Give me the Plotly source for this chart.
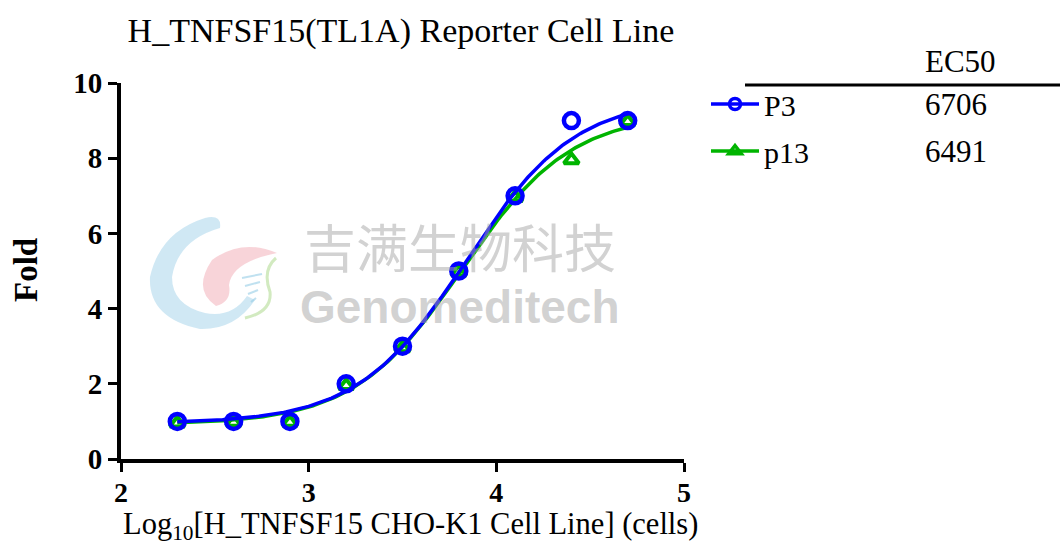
import numpy as np
import plotly.graph_objects as go

# ---- data ----
log_cells = [2.3, 2.6, 2.9, 3.2, 3.5, 3.8, 4.1, 4.4, 4.7]
p3_fold = [1.0, 1.0, 1.0, 2.0, 3.0, 5.0, 7.0, 9.0, 9.0]
p13_fold = [0.95, 0.97, 0.97, 1.95, 2.95, 4.97, 6.95, 7.95, 8.97]
series_names = ["P3", "p13"]
ec50_values = ["6706", "6491"]
x_ticks = [2, 3, 4, 5]
y_ticks = [0, 2, 4, 6, 8, 10]

# 4PL fit parameters (bottom, top, logEC50, hill)
p3_fit = dict(bottom=0.95, top=9.6, logec50=3.84, hill=1.5)
p13_fit = dict(bottom=0.92, top=9.2, logec50=3.82, hill=1.5)

BLUE = "#0000ff"
GREEN = "#00b400"
FONT = "Liberation Serif"


def fourpl(x, p):
    x = np.asarray(x)
    return p["bottom"] + (p["top"] - p["bottom"]) / (1 + 10 ** ((p["logec50"] - x) * p["hill"]))


xfit = np.linspace(min(log_cells), max(log_cells), 200)

W, H = 1060, 548
L, R, T, B = 121, 684, 83, 459


def ax(xp):  # pixel -> paper x (plot-area relative)
    return (xp - L) / (R - L)


def ay(yp):
    return (B - yp) / (B - T)


def cx(xp):  # pixel -> container
    return xp / W


def cy(yp):
    return 1 - yp / H


def pth(cmds):
    out = []
    for c in cmds:
        if isinstance(c, str):
            out.append(c)
        else:
            out.append(f"{ax(c[0]):.4f},{ay(c[1]):.4f}")
    return " ".join(out)


fig = go.Figure()

# ---- watermark (logo + text) ----
fig.add_shape(type="path", xref="paper", yref="paper", layer="below",
              path=pth(["M", (220, 228), "Q", (222, 214), (205, 218), "Q", (160, 232), (150, 277),
                        "Q", (148, 318), (200, 329), "Q", (235, 330), (255, 300),
                        "L", (247, 296), "Q", (232, 318), (205, 313), "Q", (172, 305), (172, 277),
                        "Q", (178, 240), (220, 228), "Z"]),
              fillcolor="rgba(150,205,230,0.45)", line=dict(width=0))
fig.add_shape(type="path", xref="paper", yref="paper", layer="below",
              path=pth(["M", (277, 253), "Q", (242, 238), (212, 260), "Q", (192, 290), (216, 306),
                        "Q", (232, 302), (229, 285), "Q", (232, 262), (277, 253), "Z"]),
              fillcolor="rgba(240,160,170,0.45)", line=dict(width=0))
fig.add_shape(type="path", xref="paper", yref="paper", layer="below",
              path=pth(["M", (276, 258), "Q", (262, 270), (270, 292), "Q", (272, 312), (245, 318)]),
              line=dict(color="rgba(180,220,150,0.6)", width=3))
for i in range(4):
    fig.add_shape(type="line", xref="paper", yref="paper", layer="below",
                  x0=ax(242 + 3 * i), y0=ay(278 + 8 * i), x1=ax(262 - 2 * i), y1=ay(274 + 8 * i),
                  line=dict(color="rgba(150,205,230,0.6)", width=2))

fig.add_annotation(x=ax(460), y=ay(246), xref="paper", yref="paper", text="吉满生物科技",
                   showarrow=False, font=dict(family="Noto Sans CJK SC", size=52, color="rgba(165,165,165,0.5)"),
                   xanchor="center", yanchor="middle")
fig.add_annotation(x=ax(460), y=ay(307), xref="paper", yref="paper", text="<b>Genomeditech</b>",
                   showarrow=False, font=dict(family="Liberation Sans", size=46, color="rgba(165,165,165,0.5)"),
                   xanchor="center", yanchor="middle")

# p13 (green)
fig.add_trace(go.Scatter(x=xfit, y=fourpl(xfit, p13_fit), mode="lines",
                         line=dict(color=GREEN, width=3.5), showlegend=False, hoverinfo="skip"))
fig.add_trace(go.Scatter(x=log_cells, y=p13_fold, mode="markers", showlegend=False,
                         marker=dict(symbol="triangle-up-open", size=13, color=GREEN, line=dict(width=4, color=GREEN))))
# P3 (blue)
fig.add_trace(go.Scatter(x=xfit, y=fourpl(xfit, p3_fit), mode="lines",
                         line=dict(color=BLUE, width=3.5), showlegend=False, hoverinfo="skip"))
fig.add_trace(go.Scatter(x=log_cells, y=p3_fold, mode="markers", showlegend=False,
                         marker=dict(symbol="circle-open", size=15, color=BLUE, line=dict(width=4.5, color=BLUE))))

# legend entries (dummy traces)
fig.add_trace(go.Scatter(x=[None], y=[None], mode="lines+markers", name=series_names[0],
                         line=dict(color=BLUE, width=3.5),
                         marker=dict(symbol="circle-open", size=11, color=BLUE, line=dict(width=3.5, color=BLUE)),
                         legend="legend"))
fig.add_trace(go.Scatter(x=[None], y=[None], mode="lines+markers", name=series_names[1],
                         line=dict(color=GREEN, width=3.5),
                         marker=dict(symbol="triangle-up-open", size=11, color=GREEN, line=dict(width=3.5, color=GREEN)),
                         legend="legend2"))

leg_common = dict(xref="container", yref="container", xanchor="left", yanchor="middle",
                  font=dict(family=FONT, size=30, color="black"), bgcolor="rgba(0,0,0,0)",
                  itemwidth=48, tracegroupgap=0)
fig.update_layout(
    legend=dict(x=cx(706), y=cy(104), **leg_common),
    legend2=dict(x=cx(706), y=cy(151), **leg_common),
)

# EC50 table
fig.add_annotation(x=ax(923), y=ay(62), xref="paper", yref="paper", text="EC50", showarrow=False,
                   font=dict(family=FONT, size=31, color="black"), xanchor="left", yanchor="middle")
for i, v in enumerate(ec50_values):
    fig.add_annotation(x=ax(923), y=ay(104 + 47 * i), xref="paper", yref="paper", text=v, showarrow=False,
                       font=dict(family=FONT, size=31, color="black"), xanchor="left", yanchor="middle")
fig.add_shape(type="line", xref="paper", yref="paper", x0=ax(745), x1=ax(1062), y0=ay(85), y1=ay(85),
              line=dict(color="black", width=3))

# axis titles
fig.add_annotation(x=ax(410), y=ay(526), xref="paper", yref="paper",
                   text="Log<sub>10</sub>[H_TNFSF15 CHO-K1 Cell Line] (cells)", showarrow=False,
                   font=dict(family=FONT, size=30.5, color="black"), xanchor="center", yanchor="middle")
fig.add_annotation(x=ax(26), y=ay(270), xref="paper", yref="paper", text="<b>Fold</b>", textangle=-90,
                   showarrow=False, font=dict(family=FONT, size=33, color="black"),
                   xanchor="center", yanchor="middle")

fig.update_layout(
    width=W, height=H,
    margin=dict(l=L, r=W - R, t=T, b=H - B, autoexpand=False),
    plot_bgcolor="white", paper_bgcolor="white",
    title=dict(text="H_TNFSF15(TL1A) Reporter Cell Line", x=401 / W, xanchor="center",
               y=1 - 30 / H, yanchor="middle", font=dict(family=FONT, size=34, color="black")),
    xaxis=dict(range=[2, 5], tickvals=x_ticks, showgrid=False, zeroline=False,
               showline=True, linecolor="black", linewidth=4, ticks="outside", ticklen=9, tickwidth=3,
               tickcolor="black", ticklabelstandoff=-4,
               tickfont=dict(family=FONT, size=28, color="black", weight="bold")),
    yaxis=dict(range=[0, 10], tickvals=y_ticks, showgrid=False, zeroline=False,
               showline=True, linecolor="black", linewidth=4, ticks="outside", ticklen=9, tickwidth=3,
               tickcolor="black", tickfont=dict(family=FONT, size=29, color="black", weight="bold")),
)

fig.write_html("out.html", config={"displayModeBar": False},
               post_script="document.body.style.margin='0';")
